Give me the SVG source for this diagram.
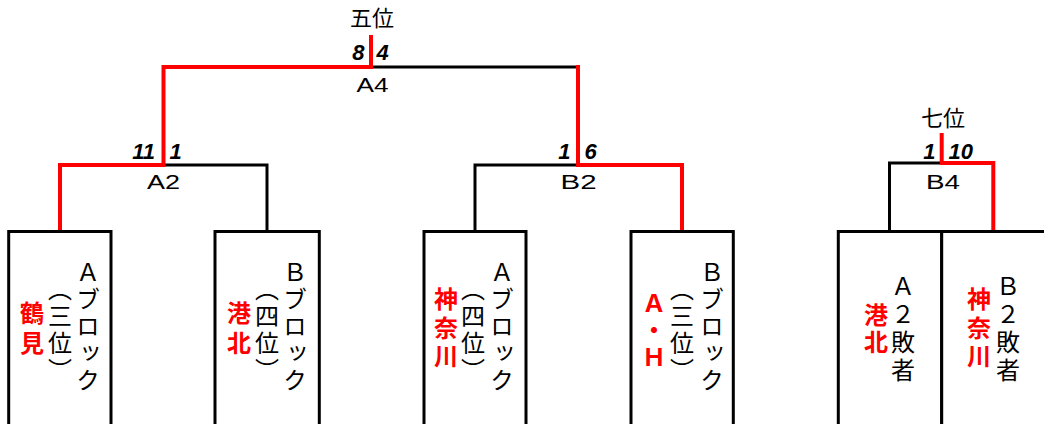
<svg xmlns="http://www.w3.org/2000/svg" width="1044" height="424" viewBox="0 0 1044 424">
<style>
.blk{fill:none;stroke:#000;stroke-width:3}
.red{fill:none;stroke:#f00;stroke-width:4}
.box{fill:#fff;stroke:#000;stroke-width:3}
.jp{font-family:"Noto Sans CJK JP","Noto Sans",sans-serif;font-size:24px;fill:#000;writing-mode:vertical-rl;letter-spacing:3px}
.rj{font-family:"Noto Sans CJK JP","Noto Sans",sans-serif;font-size:24px;font-weight:bold;fill:#f00;writing-mode:vertical-rl;letter-spacing:3px}
.ttl{font-family:"Noto Sans CJK JP","Noto Sans",sans-serif;font-size:22px;fill:#000;text-anchor:middle}
.lbl{font-family:"Liberation Sans",Arial,sans-serif;font-size:20px;fill:#000;text-anchor:middle}
.sc{font-family:"Liberation Sans",Arial,sans-serif;font-size:22px;font-weight:bold;font-style:italic;fill:#000}
.e{text-anchor:end}
</style>
<rect width="1044" height="424" fill="#fff"/>
<g id="connectors">
<path class="blk" d="M371,67 H578"/>
<path class="blk" d="M163.5,165 H267 V232"/>
<path class="blk" d="M475,232 V165 H578"/>
<path class="blk" d="M889.5,232 V163 H941.7"/>
<path class="red" d="M371,35 V67 H163.5 V165 H60 V232"/>
<path class="red" d="M578,65 V165 H682 V232"/>
<path class="red" d="M941.7,133 V163 H993.3 V232"/>
</g>
<g id="labels">
<text class="ttl" x="372" y="26">五位</text>
<text class="ttl" x="943" y="126">七位</text>
<text class="lbl" x="372.5" y="92" textLength="32" lengthAdjust="spacingAndGlyphs">A4</text>
<text class="lbl" x="163.5" y="189" textLength="33" lengthAdjust="spacingAndGlyphs">A2</text>
<text class="lbl" x="578.5" y="189" textLength="36" lengthAdjust="spacingAndGlyphs">B2</text>
<text class="lbl" x="943" y="189" textLength="34" lengthAdjust="spacingAndGlyphs">B4</text>
<text class="sc e" x="364.5" y="60">8</text>
<text class="sc" x="376.5" y="60">4</text>
<text class="sc e" x="155" y="158.5">11</text>
<text class="sc" x="169.5" y="158.5">1</text>
<text class="sc e" x="570.5" y="158.5">1</text>
<text class="sc" x="584.5" y="158.5">6</text>
<text class="sc e" x="935.5" y="158.5">1</text>
<text class="sc" x="948.5" y="158.5">10</text>
</g>
<g id="node-a3">
<rect class="box" x="8.7" y="231.5" width="102.3" height="210"/>
<text class="jp" x="88" y="260">Ａブロック</text>
<text class="jp" x="60" y="277">（三位）</text>
<text class="rj" x="32" y="300.5" style="letter-spacing:6px">鶴見</text>
</g>
<g id="node-b4">
<rect class="box" x="215" y="231.5" width="104.3" height="210"/>
<text class="jp" x="295" y="260">Ｂブロック</text>
<text class="jp" x="267" y="277">（四位）</text>
<text class="rj" x="239" y="300.5" style="letter-spacing:6px">港北</text>
</g>
<g id="node-a4">
<rect class="box" x="424" y="231.5" width="102" height="210"/>
<text class="jp" x="502" y="260">Ａブロック</text>
<text class="jp" x="473" y="277">（四位）</text>
<text class="rj" x="446" y="287" style="letter-spacing:4.5px">神奈川</text>
</g>
<g id="node-b3">
<rect class="box" x="631" y="231.5" width="102.3" height="210"/>
<text class="jp" x="712" y="260">Ｂブロック</text>
<text class="jp" x="682" y="277">（三位）</text>
<text class="rj" x="654" y="291">Ａ・Ｈ</text>
</g>
<g id="node-a2l">
<rect class="box" x="838.3" y="231.5" width="103.4" height="210"/>
<text class="jp" x="903" y="274" style="letter-spacing:4px">Ａ２敗者</text>
<text class="rj" x="876" y="303">港北</text>
</g>
<g id="node-b2l">
<rect class="box" x="941.7" y="231.5" width="110" height="210"/>
<text class="jp" x="1008" y="274" style="letter-spacing:4px">Ｂ２敗者</text>
<text class="rj" x="979" y="287" style="letter-spacing:4.5px">神奈川</text>
</g>
</svg>
